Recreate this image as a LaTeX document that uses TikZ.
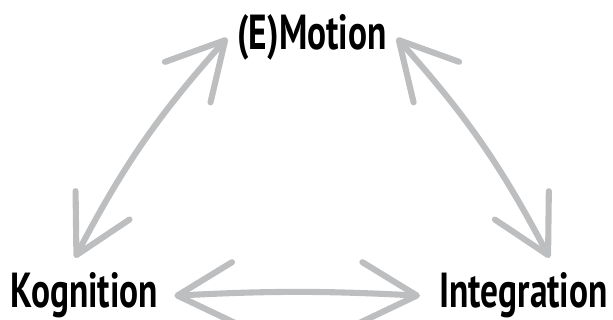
\documentclass[tikz,border=0pt]{standalone}
\usepackage{fontspec}
\usepackage{tikz}
\usetikzlibrary{positioning,arrows.meta,calc}
\newfontfamily\handfont{PT Sans}[FakeStretch=0.72]
\definecolor{arrowgray}{RGB}{189,190,192}

\begin{document}
\begin{tikzpicture}[x=0.03cm,y=-0.03cm,
    >={Straight Barb[length=48pt,width=52pt,round]},
    term/.style={font=\handfont\bfseries\fontsize{42}{46}\selectfont, inner sep=8.5pt},
    link/.style={<->, draw=arrowgray, line width=5.2pt, line cap=round, line join=round}]

\useasboundingbox (0,0) rectangle (613,320);

% -------------------------
% Begriffe
% -------------------------
\node[term, anchor=base] (emotion)     at (312,50)   {(E)Motion};
\node[term, anchor=base] (kognition)   at (84.5,308) {Kognition};
\node[term, anchor=base] (integration) at (523.5,308) {Integration};

% -------------------------
% Wechselwirkungen
% -------------------------
\draw[link] ($(kognition.north)+(-9.5,-5)$) to[bend left=7] (emotion.west);
\draw[link] (emotion.east) to[bend left=7] ($(integration.north)+(26,-5)$);
\draw[link] ($(kognition.east)+(6,0)$) to[bend left=3] ($(integration.west)+(-9,0)$);

\end{tikzpicture}
\end{document}
